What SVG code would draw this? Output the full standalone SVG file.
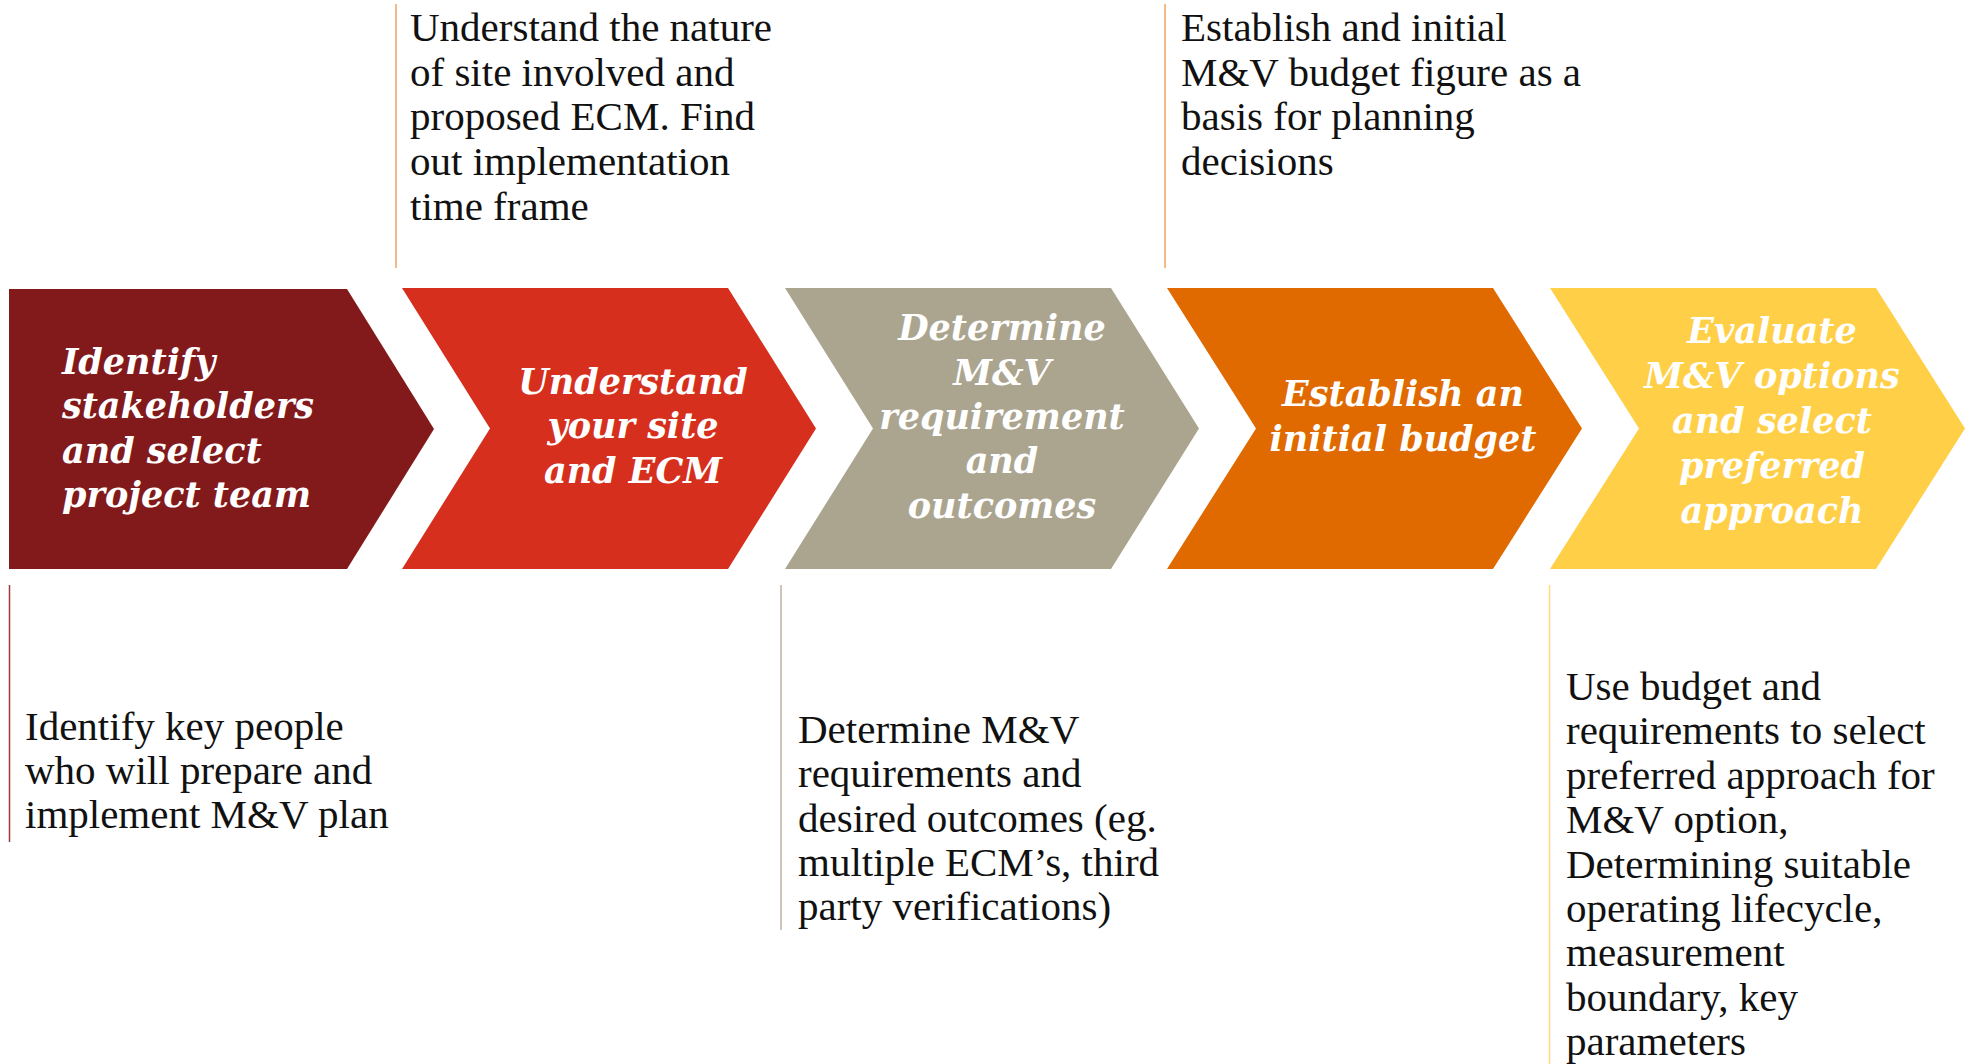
<svg xmlns="http://www.w3.org/2000/svg" width="1965" height="1064" viewBox="0 0 1965 1064">
<style>
.lbl{font-family:"DejaVu Serif","Liberation Serif",serif;font-weight:bold;font-style:italic;font-size:35px;fill:#ffffff}
.c{text-anchor:middle}
.desc{font-family:"Liberation Serif","DejaVu Serif",serif;font-size:41px;fill:#111111}
.ln{stroke-width:1.5;fill:none}
</style>
<rect width="1965" height="1064" fill="#ffffff"/>
<g id="connectors">
<line class="ln" x1="396" y1="4" x2="396" y2="268" stroke="#F2A25E"/>
<line class="ln" x1="1165" y1="4" x2="1165" y2="268" stroke="#F2A25E"/>
<line class="ln" x1="9.5" y1="585" x2="9.5" y2="842" stroke="#9B3B3E"/>
<line class="ln" x1="781" y1="585" x2="781" y2="930" stroke="#BDB39C"/>
<line class="ln" x1="1549.5" y1="585" x2="1549.5" y2="1064" stroke="#FFDA80"/>
</g>
<g id="node1">
<polygon points="9,289 347,289 434,429 347,569 9,569" fill="#821A1C"/>
<text class="lbl"><tspan x="62" y="374">Identify</tspan><tspan x="62" y="418">stakeholders</tspan><tspan x="62" y="463">and select</tspan><tspan x="62" y="507">project team</tspan></text>
</g>
<g id="node2">
<polygon points="402,288 728,288 816,428.5 728,569 402,569 490,428.5" fill="#D62F1E"/>
<text class="lbl c"><tspan x="633" y="394">Understand</tspan><tspan x="633" y="438">your site</tspan><tspan x="633" y="483">and ECM</tspan></text>
</g>
<g id="node3">
<polygon points="785,288 1111,288 1199,428.5 1111,569 785,569 873,428.5" fill="#ABA590"/>
<text class="lbl c"><tspan x="1002" y="340">Determine</tspan><tspan x="1002" y="385">M&amp;V</tspan><tspan x="1002" y="429">requirement</tspan><tspan x="1002" y="473">and</tspan><tspan x="1002" y="518">outcomes</tspan></text>
</g>
<g id="node4">
<polygon points="1167,288 1493,288 1582,428.5 1493,569 1167,569 1256,428.5" fill="#E06A00"/>
<text class="lbl c"><tspan x="1403" y="406">Establish an</tspan><tspan x="1403" y="451">initial budget</tspan></text>
</g>
<g id="node5">
<polygon points="1550,288 1876,288 1965,428.5 1876,569 1550,569 1639,428.5" fill="#FFCF48"/>
<text class="lbl c"><tspan x="1772" y="343">Evaluate</tspan><tspan x="1772" y="388">M&amp;V options</tspan><tspan x="1772" y="433">and select</tspan><tspan x="1772" y="478">preferred</tspan><tspan x="1772" y="523">approach</tspan></text>
</g>
<g id="desc-top1">
<text class="desc"><tspan x="410" y="41">Understand the nature</tspan><tspan x="410" y="86">of site involved and</tspan><tspan x="410" y="130">proposed ECM. Find</tspan><tspan x="410" y="175">out implementation</tspan><tspan x="410" y="220">time frame</tspan></text>
</g>
<g id="desc-top2">
<text class="desc"><tspan x="1181" y="41">Establish and initial</tspan><tspan x="1181" y="86">M&amp;V budget figure as a</tspan><tspan x="1181" y="130">basis for planning</tspan><tspan x="1181" y="175">decisions</tspan></text>
</g>
<g id="desc-bot1">
<text class="desc"><tspan x="25" y="740">Identify key people</tspan><tspan x="25" y="784">who will prepare and</tspan><tspan x="25" y="828">implement M&amp;V plan</tspan></text>
</g>
<g id="desc-bot2">
<text class="desc"><tspan x="798" y="743">Determine M&amp;V</tspan><tspan x="798" y="787">requirements and</tspan><tspan x="798" y="832">desired outcomes (eg.</tspan><tspan x="798" y="876">multiple ECM’s, third</tspan><tspan x="798" y="920">party verifications)</tspan></text>
</g>
<g id="desc-bot3">
<text class="desc"><tspan x="1566" y="700">Use budget and</tspan><tspan x="1566" y="744">requirements to select</tspan><tspan x="1566" y="789">preferred approach for</tspan><tspan x="1566" y="833">M&amp;V option,</tspan><tspan x="1566" y="878">Determining suitable</tspan><tspan x="1566" y="922">operating lifecycle,</tspan><tspan x="1566" y="966">measurement</tspan><tspan x="1566" y="1011">boundary, key</tspan><tspan x="1566" y="1055">parameters</tspan></text>
</g>
</svg>
